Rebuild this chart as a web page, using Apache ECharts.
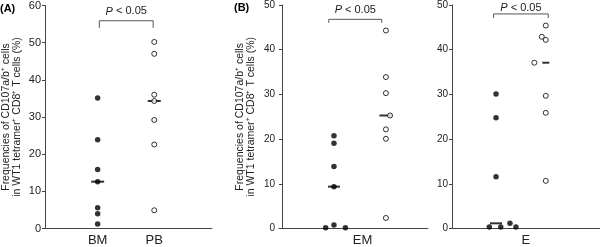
<!DOCTYPE html>
<html>
<head>
<meta charset="utf-8">
<script src="https://cdn.jsdelivr.net/npm/echarts@6/dist/echarts.min.js"></script>
<style>
  html, body { margin: 0; padding: 0; background: #fff; }
  #chart { width: 600px; height: 247px; }
</style>
</head>
<body>
<div id="chart"></div>
<script>
// values (%)
const bmValues = [35.1, 23.9, 15.9, 12.6, 5.6, 4.0, 1.2];
const pbValues = [50.2, 47.0, 36.0, 34.3, 29.2, 22.6, 4.9];
const emFilled = [20.8, 19.1, 13.9, 9.4, 0.8, 0.2, 0.2];
const emOpen = [44.3, 33.9, 30.3, 25.3, 22.2, 20.1, 2.4];
const eFilled = [30.1, 24.8, 11.6, 1.2, 0.4, 0.4, 0.4];
const eOpen = [45.4, 42.9, 42.2, 37.1, 29.7, 25.9, 10.7];

// horizontal spread of overlapping dots (column units)
const bmJitter = [0, 0, 0, 0, 0, 0, 0];
const pbJitter = [0, 0, 0, 0, 0, 0, 0];
const emFilledJitter = [0, 0, 0, 0, 0, -0.16, 0.22];
const emOpenJitter = [0, 0, 0, 0.08, 0, 0, 0];
const eFilledJitter = [0, 0, 0, 0.28, -0.135, 0.095, 0.4];
const eOpenJitter = [0, -0.08, 0, -0.23, 0, 0, 0];

const panelALabels = ['BM', 'PB'];
const panelBLabel = 'EM';
const panelCLabel = 'E';
const yName = 'Frequencies of CD107a/b\u207a cells\nin WT1 tetramer\u207a CD8\u207a T cells (%)';

const font = 'Liberation Sans, Arial, sans-serif';
const ink = '#222';

function pts(values, jitter, col) {
    return values.map((v, i) => [col + jitter[i], v]);
}
function median(values) {
    const s = values.slice().sort((a, b) => a - b);
    const n = s.length;
    return n % 2 ? s[(n - 1) / 2] : (s[n / 2 - 1] + s[n / 2]) / 2;
}

const grids = [
    { left: 44, top: 4, width: 168, height: 224.5 },
    { left: 279, top: 4, width: 149, height: 224.7 },
    { left: 452, top: 4, width: 148, height: 224.7 }
];

function xAxis(idx, min, max, labelAt, labels) {
    return {
        type: 'value', gridIndex: idx, min: min, max: max,
        axisLine: { show: true, lineStyle: { color: '#444', width: 1 } },
        axisTick: { show: false },
        splitLine: { show: false },
        axisLabel: {
            customValues: labelAt,
            formatter: v => labels[labelAt.indexOf(v)] || '',
            color: ink, fontSize: 13, fontFamily: font, margin: 5
        }
    };
}
function yAxis(idx, max, withName, labelSize) {
    const ax = {
        type: 'value', gridIndex: idx, min: 0, max: max, interval: 10,
        axisLine: { show: true, lineStyle: { color: '#444', width: 1 } },
        axisTick: { show: true, length: 3, lineStyle: { color: '#444' } },
        splitLine: { show: false },
        axisLabel: { color: ink, fontSize: labelSize, fontFamily: font, margin: 4 }
    };
    if (withName) {
        ax.name = yName;
        ax.nameLocation = 'middle';
        ax.nameRotate = 90;
        ax.nameGap = 22;
        ax.nameTextStyle = { color: ink, fontSize: 10.5, fontFamily: font, lineHeight: 11 };
    }
    return ax;
}

function filled(idx, data) {
    return { type: 'scatter', xAxisIndex: idx, yAxisIndex: idx, data: data,
        symbol: 'circle', symbolSize: 5.5, itemStyle: { color: '#000' }, z: 3 };
}
function open(idx, data) {
    return { type: 'scatter', xAxisIndex: idx, yAxisIndex: idx, data: data,
        symbol: 'circle', symbolSize: 5,
        itemStyle: { color: '#fff', borderColor: '#000', borderWidth: 1 }, z: 3 };
}
function medianBar(idx, col, values, w) {
    return { type: 'scatter', xAxisIndex: idx, yAxisIndex: idx, data: [[col, median(values)]],
        symbol: 'rect', symbolSize: [w, 2], itemStyle: { color: '#000' }, z: 2 };
}

const chart = echarts.init(document.getElementById('chart'), null, { renderer: 'canvas' });
chart.setOption({
    animation: false,
    backgroundColor: '#fff',
    grid: grids,
    xAxis: [
        xAxis(0, 0.07, 3.02, [1, 2], panelALabels),
        xAxis(1, -0.058, 2.81, [1.55], [panelBLabel]),
        xAxis(2, 0.115, 3.09, [1.6], [panelCLabel])
    ],
    yAxis: [yAxis(0, 60, true, 11), yAxis(1, 50, true, 10), yAxis(2, 50, false, 10)],
    series: [
        medianBar(0, 1, bmValues, 13),
        medianBar(0, 2, pbValues, 13),
        filled(0, pts(bmValues, bmJitter, 1)),
        open(0, pts(pbValues, pbJitter, 2)),
        medianBar(1, 1, emFilled, 12),
        medianBar(1, 2, emOpen, 13),
        filled(1, pts(emFilled, emFilledJitter, 1)),
        open(1, pts(emOpen, emOpenJitter, 2)),
        medianBar(2, 1, eFilled, 12),
        medianBar(2, 2, eOpen, 7),
        filled(2, pts(eFilled, eFilledJitter, 1)),
        open(2, pts(eOpen, eOpenJitter, 2))
    ]
});

// significance brackets and panel letters
const brackets = [
    { grid: 0, x0: 1.03, x1: 1.98, top: 55.9, foot: 54.0, text: 58.4 },
    { grid: 1, x0: 0.9, x1: 1.92, top: 46.8, foot: 46.0, text: 48.9 },
    { grid: 2, x0: 0.95, x1: 2.05, top: 48.0, foot: 47.1, text: 49.3 }
];
const graphic = [];
brackets.forEach(b => {
    const a = chart.convertToPixel({ gridIndex: b.grid }, [b.x0, b.foot]);
    const c = chart.convertToPixel({ gridIndex: b.grid }, [b.x0, b.top]);
    const d = chart.convertToPixel({ gridIndex: b.grid }, [b.x1, b.top]);
    const e = chart.convertToPixel({ gridIndex: b.grid }, [b.x1, b.foot]);
    const t = chart.convertToPixel({ gridIndex: b.grid }, [(b.x0 + b.x1) / 2, b.text]);
    graphic.push({
        type: 'polyline',
        shape: { points: [a, c, d, e] },
        style: { stroke: '#555', lineWidth: 1, fill: null }
    });
    graphic.push({
        type: 'text', x: t[0], y: t[1],
        style: {
            text: '{i|P} < 0.05', align: 'center', verticalAlign: 'middle',
            fill: ink, font: '11px ' + font,
            rich: { i: { fontStyle: 'italic', fontSize: 11, fontFamily: font } }
        }
    });
});
graphic.push({ type: 'text', x: 0, y: 3, style: { text: '(A)', fill: '#000', font: 'bold 11px ' + font } });
graphic.push({ type: 'text', x: 234, y: 2, style: { text: '(B)', fill: '#000', font: 'bold 11px ' + font } });
chart.setOption({ graphic: graphic });
</script>
</body>
</html>
